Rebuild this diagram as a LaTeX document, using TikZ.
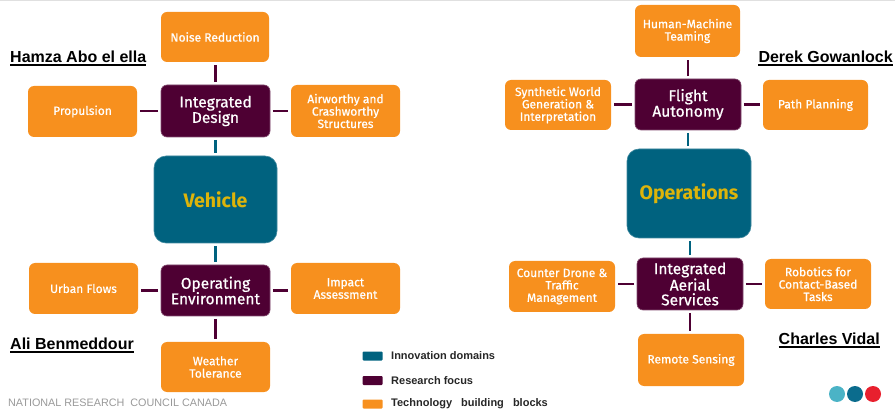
\documentclass[tikz,border=0pt]{standalone}
\usepackage{fontspec}
\setmainfont{Fira Sans}
\newfontfamily\boxfont{Fira Sans}[FakeBold=0.7]
\newfontfamily\arialfont{Liberation Sans}
\definecolor{tborange}{HTML}{F7901E}
\definecolor{rfpurple}{HTML}{4E0033}
\definecolor{idteal}{HTML}{00627F}
\definecolor{vgold}{HTML}{DDB40A}
\definecolor{dotlight}{HTML}{4BB3C6}
\definecolor{dotdark}{HTML}{0B6C8D}
\definecolor{dotred}{HTML}{E8202E}
\tikzset{
  tbbox/.style={fill=tborange, rounded corners=6pt, text=white, align=center, inner sep=0pt,
    font=\boxfont\fontsize{12}{12.4}\selectfont},
  rfbox/.style={fill=rfpurple, draw=rfpurple!70!white, line width=0.6pt, rounded corners=6pt, text=white, align=center, inner sep=0pt,
    font=\boxfont\fontsize{15.5}{15.5}\selectfont},
  idbox/.style={fill=idteal, draw=idteal!75!white, line width=0.6pt, rounded corners=12pt, text=vgold, align=center, inner sep=0pt,
    font=\fontsize{19.5}{22}\selectfont\bfseries},
  pline/.style={draw=rfpurple, line width=2.2pt, shorten <=2.5pt, shorten >=2.5pt},
  tline/.style={draw=idteal, line width=2.2pt, shorten <=2.5pt, shorten >=2.5pt},
  person/.style={font=\arialfont\fontsize{16}{18}\selectfont\bfseries, text=black, inner sep=0pt},
  underl/.style={draw=black, line width=1.3pt},
  legsq/.style={fill=#1, minimum width=20pt, minimum height=9pt, inner sep=0pt, rounded corners=1pt},
  legtx/.style={font=\arialfont\fontsize{11}{12}\selectfont\bfseries, text=black!85, inner sep=0pt, anchor=west},
}
\begin{document}
\begin{tikzpicture}[x=1pt,y=-1pt]
\useasboundingbox (0,0) rectangle (895,414);
\fill[black!12] (0,0) rectangle (895,1.5);

% ---------- Vehicle cluster ----------
\node[tbbox, minimum width=108pt, minimum height=50pt] (noise) at (215,37) {Noise Reduction};
\node[tbbox, minimum width=109pt, minimum height=51pt] (prop) at (82.5,111.5) {Propulsion};
\node[rfbox, minimum width=109pt, minimum height=52pt] (idesign) at (215.5,111) {Integrated\\Design};
\node[tbbox, minimum width=109pt, minimum height=52pt] (airw) at (345.5,111) {Airworthy and\\Crashworthy\\Structures};
\node[idbox, minimum width=123pt, minimum height=87pt] (vehicle) at (215.5,199.5) {Vehicle};
\node[rfbox, minimum width=109pt, minimum height=51pt] (openv) at (215.5,290.5) {Operating\\Environment};
\node[tbbox, minimum width=109pt, minimum height=51pt] (urban) at (83.5,288.5) {Urban Flows};
\node[tbbox, minimum width=109pt, minimum height=51pt] (impact) at (345.5,288.5) {Impact\\Assessment};
\node[tbbox, minimum width=109pt, minimum height=50pt] (weather) at (215.5,367) {Weather\\Tolerance};

\draw[pline] (idesign.north) -- (idesign.north |- noise.south);
\draw[pline] (idesign.west) -- (idesign.west -| prop.east);
\draw[pline] (idesign.east) -- (idesign.east -| airw.west);
\draw[tline] (idesign.south) -- (idesign.south |- vehicle.north);
\draw[tline] (vehicle.south) -- (vehicle.south |- openv.north);
\draw[pline] (openv.west) -- (openv.west -| urban.east);
\draw[pline] (openv.east) -- (openv.east -| impact.west);
\draw[pline] (openv.south) -- (openv.south |- weather.north);

% ---------- Operations cluster ----------
\node[tbbox, minimum width=105pt, minimum height=52pt] (hmt) at (687.5,31) {Human-Machine\\Teaming};
\node[tbbox, minimum width=106pt, minimum height=50pt] (synth) at (558,105) {Synthetic World\\Generation \&\\Interpretation};
\node[rfbox, minimum width=106pt, minimum height=51pt] (fauto) at (688,104.5) {Flight\\Autonomy};
\node[tbbox, minimum width=105pt, minimum height=50pt] (path) at (815.5,105) {Path Planning};
\node[idbox, minimum width=124pt, minimum height=89pt] (ops) at (689,193.5) {Operations};
\node[rfbox, minimum width=106pt, minimum height=52pt, font=\boxfont\fontsize{15.5}{14.8}\selectfont] (ias) at (690,284) {Integrated\\Aerial\\Services};
\node[tbbox, minimum width=106pt, minimum height=51pt] (counter) at (562,286.5) {Counter Drone \&\\Traffic\\Management};
\node[tbbox, minimum width=106pt, minimum height=50pt] (robot) at (818,284) {Robotics for\\Contact-Based\\Tasks};
\node[tbbox, minimum width=106pt, minimum height=52pt] (remote) at (691,360) {Remote Sensing};

\draw[pline] (fauto.north) -- (fauto.north |- hmt.south);
\draw[pline] (fauto.west) -- (fauto.west -| synth.east);
\draw[pline] (fauto.east) -- (fauto.east -| path.west);
\draw[tline] (fauto.south) -- (fauto.south |- ops.north);
\draw[tline] (ias.north) -- (ias.north |- ops.south);
\draw[pline] (ias.west) -- (ias.west -| counter.east);
\draw[pline] (ias.east) -- (ias.east -| robot.west);
\draw[pline] (ias.south) -- (ias.south |- remote.north);

% ---------- People ----------
\node[person, anchor=west] (hamza) at (10,57) {Hamza Abo el ella};
\node[person, anchor=east] (derek) at (893,57) {Derek Gowanlock};
\node[person, anchor=west] (ali) at (10,344) {Ali Benmeddour};
\node[person, anchor=east] (charles) at (880,339) {Charles Vidal};
\foreach \p in {hamza,derek,ali,charles}
  \draw[underl] ([yshift=-2.2pt]\p.base west) -- ([yshift=-2.2pt]\p.base east);

% ---------- Legend ----------
\node[legsq=idteal] (lsq1) at (372.5,356) {};
\node[legsq=rfpurple] (lsq2) at (372.5,380.5) {};
\node[legsq=tborange] (lsq3) at (372.5,404) {};
\node[legtx] (ltx1) at (391,356) {Innovation domains};
\node[legtx] (ltx2) at (391,380.5) {Research focus};
\node[legtx] (ltx3) at (391,404) {Technology\hspace{6pt} building\hspace{6pt} blocks};

% ---------- Footer ----------
\node[font=\arialfont\fontsize{10.8}{12}\selectfont, text=black!40, anchor=west, inner sep=0pt] (nrc) at (8,403) {NATIONAL RESEARCH\ \ COUNCIL CANADA};
\fill[dotlight] (837,394) circle (8pt);
\fill[dotdark] (855,394) circle (8pt);
\fill[dotred] (873,394) circle (8pt);
\end{tikzpicture}
\end{document}
